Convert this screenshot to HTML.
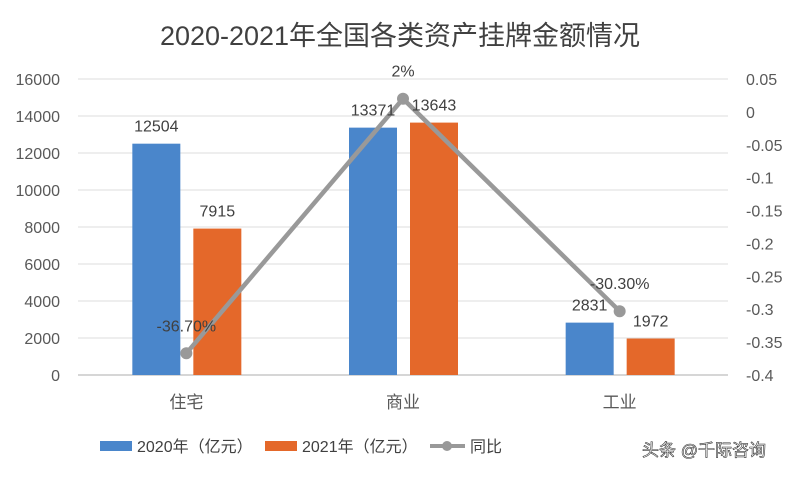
<!DOCTYPE html>
<html><head><meta charset="utf-8"><style>
body{margin:0;background:#fff;}
svg text{font-family:"Liberation Sans","Noto Sans CJK SC",sans-serif;}
</style></head><body>
<svg width="800" height="475" viewBox="0 0 800 475">
<text x="400" y="45" text-anchor="middle" font-size="27" fill="#404040">2020-2021年全国各类资产挂牌金额情况</text>
<g id="grid"></g><g id="bars"></g><g id="line"></g><g id="labels"></g>
<g>
<rect x="100" y="441" width="32" height="10" fill="#4a86cb"/>
<text x="137" y="452" font-size="16" fill="#404040">2020年（亿元）</text>
<rect x="265" y="441" width="32" height="10" fill="#e4682a"/>
<text x="302" y="452" font-size="16" fill="#404040">2021年（亿元）</text>
<line x1="430" y1="446" x2="465" y2="446" stroke="#999" stroke-width="4"/>
<circle cx="447" cy="446" r="5" fill="#999"/>
<text x="470" y="452" font-size="16" fill="#404040">同比</text>
</g>
<text x="642" y="456" font-size="17" fill="#fff" stroke="#333" stroke-width="0.6">头条 @千际咨询</text>
</svg>
<script>
const categories=["住宅","商业","工业"];
const v2020=[12504,13371,2831];
const v2021=[7915,13643,1972];
const yoy=[-0.367,0.02,-0.303];
const yoyLabels=["-36.70%","2%","-30.30%"];
const leftTicks=[0,2000,4000,6000,8000,10000,12000,14000,16000];
const rightTicks=[0.05,0,-0.05,-0.1,-0.15,-0.2,-0.25,-0.3,-0.35,-0.4];
const NS="http://www.w3.org/2000/svg";
const L=78,R=728,T=79,B=375;
const yL=v=>B-(v/16000)*(B-T);
const yR=v=>T+(0.05-v)/0.45*(B-T);
const cx=i=>L+(i+0.5)*(R-L)/categories.length;
function mk(tag,attrs,parent,text){const e=document.createElementNS(NS,tag);for(const k in attrs)e.setAttribute(k,attrs[k]);if(text!==undefined)e.textContent=text;document.getElementById(parent).appendChild(e);return e;}
leftTicks.forEach(t=>{
 const g=mk("line",{x1:L,x2:R,y1:yL(t),y2:yL(t),stroke:t===0?"#c8c8c8":"#dedede","stroke-width":t===0?1.5:1},"grid");
 
 
 const tx=mk("text",{x:60,y:yL(t)+6,"text-anchor":"end","font-size":"16",fill:"#595959"},"labels",String(t));
 
 
});
rightTicks.forEach(t=>{
 const tx=mk("text",{x:746,y:yR(t)+6,"font-size":"16",fill:"#595959"},"labels",String(t));
 
 
});
categories.forEach((c,i)=>{
 const x=cx(i);
 const b1=mk("rect",{x:x-54,y:yL(v2020[i]),width:48,height:B-yL(v2020[i]),fill:"#4a86cb"},"bars");
 
 
 const b2=mk("rect",{x:x+7,y:yL(v2021[i]),width:48,height:B-yL(v2021[i]),fill:"#e4682a"},"bars");
 
 
 const l1=mk("text",{x:x-30,y:yL(v2020[i])-12,"text-anchor":"middle","font-size":"16",fill:"#404040"},"labels",String(v2020[i]));
 
 
 const l2=mk("text",{x:x+31,y:yL(v2021[i])-12,"text-anchor":"middle","font-size":"16",fill:"#404040"},"labels",String(v2021[i]));
 
 
 const cl=mk("text",{x:x,y:B+33,"text-anchor":"middle","font-size":"17",fill:"#595959"},"labels",c);
 
 
});
const pts=yoy.map((v,i)=>cx(i)+","+yR(v)).join(" ");
const pl=mk("polyline",{points:pts,fill:"none",stroke:"#999","stroke-width":4.5,"stroke-linejoin":"round"},"line");


yoy.forEach((v,i)=>{
 const c=mk("circle",{cx:cx(i),cy:yR(v),r:6,fill:"#999"},"line");
 
 
 const t=mk("text",{x:cx(i),y:yR(v)-22,"text-anchor":"middle","font-size":"16",fill:"#404040"},"labels",yoyLabels[i]);
 
 
});
</script>
</body></html>
